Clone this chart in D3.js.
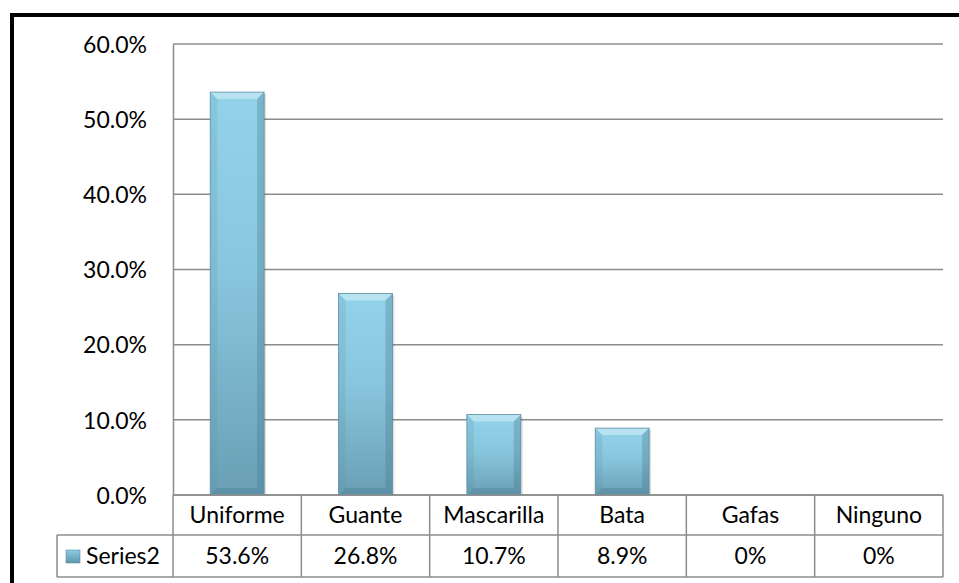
<!DOCTYPE html>
<html>
<head>
<meta charset="utf-8">
<script src="https://cdn.jsdelivr.net/npm/d3@7"></script>
<style>
  html, body { margin: 0; padding: 0; background: #fff; }
  svg text { font-family: Lato, "Open Sans", sans-serif; fill: #000; }
</style>
</head>
<body>
<svg id="chart" width="959" height="583"></svg>
<script>
const categories = ["Uniforme", "Guante", "Mascarilla", "Bata", "Gafas", "Ninguno"];
const values = [53.6, 26.8, 10.7, 8.9, 0, 0];
const valueLabels = ["53.6%", "26.8%", "10.7%", "8.9%", "0%", "0%"];
const seriesName = "Series2";
const yTicks = [0, 10, 20, 30, 40, 50, 60];

const svg = d3.select("#chart");
const plot = { left: 173, right: 943, top: 44, bottom: 495 };
const tableRow1 = 535, tableRow2 = 577, legendLeft = 57;
const fontSize = "23px";

// outer frame
svg.append("rect").attr("x", 12).attr("y", 15).attr("width", 960).attr("height", 600)
  .attr("fill", "none").attr("stroke", "#000").attr("stroke-width", 4);

const x = d3.scaleBand().domain(categories).range([plot.left, plot.right]).paddingInner(0.58).paddingOuter(0.29);
const xCell = d3.scaleBand().domain(categories).range([plot.left, plot.right]);
const y = d3.scaleLinear().domain([0, 60]).range([plot.bottom, plot.top]);

// gradients
const defs = svg.append("defs");
const g = defs.append("linearGradient").attr("id", "barGrad").attr("x1", 0).attr("y1", 0).attr("x2", 0).attr("y2", 1);
g.append("stop").attr("offset", "0%").attr("stop-color", "#93d3ea");
g.append("stop").attr("offset", "45%").attr("stop-color", "#88c6dd");
g.append("stop").attr("offset", "100%").attr("stop-color", "#6a9fb5");
const kg = defs.append("linearGradient").attr("id", "keyGrad").attr("x1", 0).attr("y1", 0).attr("x2", 0).attr("y2", 1);
kg.append("stop").attr("offset", "0%").attr("stop-color", "#8ccbe2");
kg.append("stop").attr("offset", "100%").attr("stop-color", "#5f95ab");

// grid lines
svg.append("g").selectAll("line").data(yTicks).join("line")
  .attr("x1", plot.left).attr("x2", plot.right)
  .attr("y1", d => y(d)).attr("y2", d => y(d))
  .attr("stroke", "#8c8c8c").attr("stroke-width", 1.5);

// y axis
const yAxis = svg.append("g").attr("transform", `translate(${plot.left},0)`)
  .call(d3.axisLeft(y).tickValues(yTicks).tickSize(0).tickPadding(26).tickFormat(d => d3.format(".1f")(d) + "%"));
yAxis.select(".domain").attr("stroke", "#8c8c8c").attr("stroke-width", 1.5);
yAxis.selectAll("text").style("font-size", fontSize).attr("dy", "0.36em");

// bars with bevelled faces
const bev = 7;
const bars = svg.append("g").selectAll("g").data(categories.map((c, i) => ({ c, v: values[i] })).filter(d => d.v > 0)).join("g");
bars.each(function(d) {
  const gEl = d3.select(this);
  const x0 = x(d.c), w = x.bandwidth(), y0 = y(d.v), y1 = y(0), x1 = x0 + w;
  gEl.append("rect").attr("x", x0 + 2).attr("y", y0 + 2).attr("width", w).attr("height", y1 - y0 - 2)
    .attr("fill", "#000").attr("opacity", 0.12);
  gEl.append("rect").attr("x", x0).attr("y", y0).attr("width", w).attr("height", y1 - y0).attr("fill", "url(#barGrad)");
  // top bevel
  gEl.append("polygon").attr("points", [[x0, y0], [x1, y0], [x1 - bev, y0 + bev], [x0 + bev, y0 + bev]].join(" "))
    .attr("fill", "#bfe6f4").attr("opacity", 0.8);
  // left bevel
  gEl.append("polygon").attr("points", [[x0, y0], [x0 + bev, y0 + bev], [x0 + bev, y1 - bev], [x0, y1]].join(" "))
    .attr("fill", "#5a8fa5").attr("opacity", 0.2);
  // right bevel
  gEl.append("polygon").attr("points", [[x1, y0], [x1 - bev, y0 + bev], [x1 - bev, y1 - bev], [x1, y1]].join(" "))
    .attr("fill", "#3f6f84").attr("opacity", 0.3);
  // bottom bevel
  gEl.append("polygon").attr("points", [[x0, y1], [x0 + bev, y1 - bev], [x1 - bev, y1 - bev], [x1, y1]].join(" "))
    .attr("fill", "#3f6f84").attr("opacity", 0.3);
  gEl.append("rect").attr("x", x0).attr("y", y0).attr("width", w).attr("height", y1 - y0)
    .attr("fill", "none").attr("stroke", "#5b8ea3").attr("stroke-width", 0.8);
});

// data table
const tbl = svg.append("g").attr("stroke", "#8c8c8c").attr("stroke-width", 1.5);
tbl.append("line").attr("x1", plot.left).attr("x2", plot.right).attr("y1", plot.bottom).attr("y2", plot.bottom);
tbl.append("line").attr("x1", legendLeft).attr("x2", plot.right).attr("y1", tableRow1).attr("y2", tableRow1);
tbl.append("line").attr("x1", legendLeft).attr("x2", plot.right).attr("y1", tableRow2).attr("y2", tableRow2);
tbl.append("line").attr("x1", legendLeft).attr("x2", legendLeft).attr("y1", tableRow1).attr("y2", tableRow2);
const bounds = categories.map(c => xCell(c)).concat([plot.right]);
tbl.selectAll("line.v").data(bounds).join("line").attr("class", "v")
  .attr("x1", d => d).attr("x2", d => d).attr("y1", plot.bottom).attr("y2", tableRow2);

svg.append("g").selectAll("text").data(categories).join("text")
  .attr("x", d => xCell(d) + xCell.bandwidth() / 2).attr("y", (plot.bottom + tableRow1) / 2)
  .attr("text-anchor", "middle").attr("dy", "0.36em").style("font-size", fontSize).text(d => d);
svg.append("g").selectAll("text").data(categories).join("text")
  .attr("x", d => xCell(d) + xCell.bandwidth() / 2).attr("y", (tableRow1 + tableRow2) / 2)
  .attr("text-anchor", "middle").attr("dy", "0.36em").style("font-size", fontSize).text((d, i) => valueLabels[i]);

// legend key
svg.append("rect").attr("x", 66).attr("y", 550).attr("width", 14).attr("height", 13).attr("fill", "url(#keyGrad)")
  .attr("stroke", "#5b8ea3").attr("stroke-width", 0.6);
svg.append("text").attr("x", 86).attr("y", (tableRow1 + tableRow2) / 2).attr("dy", "0.36em")
  .style("font-size", fontSize).text(seriesName);
</script>
</body>
</html>
